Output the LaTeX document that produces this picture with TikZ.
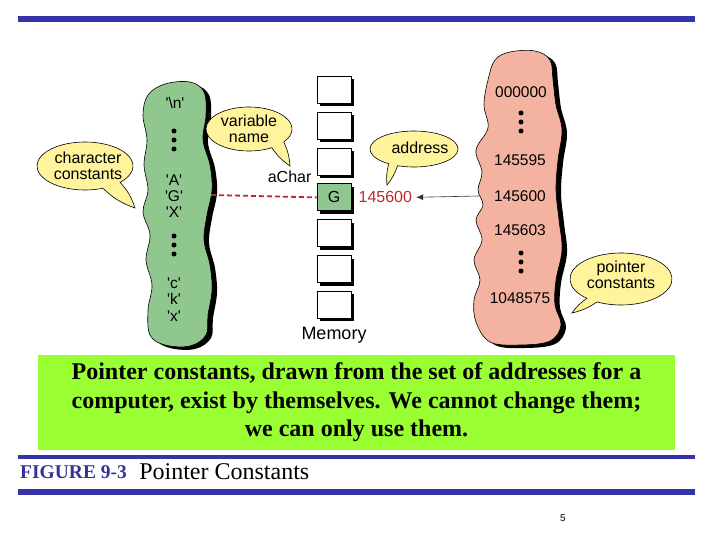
\documentclass[tikz,border=0pt]{standalone}
\usepackage{fontspec}
\setmainfont{Liberation Serif}
\setsansfont{Liberation Sans}
\usetikzlibrary{arrows.meta, positioning, calc, shadows}
\definecolor{barBlue}{HTML}{3434A8}
\definecolor{figBlue}{HTML}{333399}
\definecolor{charGreen}{HTML}{8FC78F}
\definecolor{addrPink}{HTML}{F4B3A0}
\definecolor{talkYellow}{HTML}{FFF39B}
\definecolor{noteLime}{HTML}{99FF33}
\definecolor{ptrRed}{HTML}{C0272D}

\begin{document}
\begin{tikzpicture}[
    x=1pt, y=-1pt,
    blob/.style={draw=black, line width=0.6pt,
                 drop shadow={opacity=1, fill=black, shadow xshift=5pt, shadow yshift=-3pt}},
    bubble/.style={draw=black, line width=0.6pt, fill=talkYellow},
    talk/.style={font=\sffamily\fontsize{16}{16.5}\selectfont, align=center, inner sep=0pt},
    val/.style={font=\sffamily\fontsize{15.5}{16}\selectfont, inner sep=0pt},
    cell/.style={draw, line width=0.8pt, fill=white, minimum width=34pt, minimum height=27pt,
                 inner sep=0pt, font=\sffamily\fontsize{16}{16}\selectfont,
                 drop shadow={opacity=1, fill=black, shadow xshift=3pt, shadow yshift=-3pt}},
    arrow/.style={-{Latex[length=7pt, width=6pt]}, line width=0.6pt, black!80},
]
\useasboundingbox (0,0) rectangle (720,540);

% ── frame bars ──
\fill[barBlue] (18,16) rectangle (695,22);
\fill[barBlue] (18,455) rectangle (695,458.5);
\fill[barBlue] (18,489) rectangle (695,495);

% ── character constants ──
\draw[blob, fill=charGreen] plot[smooth cycle, tension=0.6] coordinates {
    (165,84) (190,82) (204,92) (206,115) (203,140) (210,165) (212,190)
    (207,215) (204,240) (210,265) (212,290) (208,315) (206,335) (190,346)
    (165,345) (150,335) (148,310) (152,285) (146,260) (150,235) (143,212)
    (148,190) (144,165) (147,140) (143,115) (148,95)};
\node[val] (cn) at (175,103) {\textquotesingle\textbackslash n\textquotesingle};
\node[val] (cA) at (174,180) {\textquotesingle A\textquotesingle};
\node[val] (cG) at (174,196) {\textquotesingle G\textquotesingle};
\node[val] (cX) at (174,212) {\textquotesingle X\textquotesingle};
\node[val] (cc) at (174,283) {\textquotesingle c\textquotesingle};
\node[val] (ck) at (174,299) {\textquotesingle k\textquotesingle};
\node[val] (cx) at (174,316) {\textquotesingle x\textquotesingle};
\foreach \yy in {131,140,149,236,245,254}
    \fill (174,\yy) circle (2.5);
\coordinate (gedge) at (211,195);

% ── pointer constants ──
\draw[blob, fill=addrPink] plot[smooth cycle, tension=0.6] coordinates {
    (510,52) (535,51) (550,60) (553,80) (556,105) (562,130) (558,160)
    (556,190) (559,220) (562,250) (556,280) (555,305) (561,325) (550,341)
    (520,345) (490,342) (476,322) (474,300) (480,280) (474,260) (482,240)
    (476,220) (483,205) (478,190) (482,172) (476,150) (488,128) (484,105)
    (488,80) (495,60)};
\node[val] (a0) at (521,92) {000000};
\node[val] (a1) at (520,160) {145595};
\node[val] (a2) at (520,196) {145600};
\node[val] (a3) at (520,230) {145603};
\node[val] (a4) at (520,298) {1048575};
\foreach \yy in {113,122,131,253,262,271}
    \fill (521,\yy) circle (2.5);
\coordinate (pedge) at (479,196);

% ── memory ──
\node[cell] (cell1) at (334,90) {};
\node[cell, below=8pt of cell1] (cell2) {};
\node[cell, below=8pt of cell2] (cell3) {};
\node[cell, below=8pt of cell3, fill=charGreen] (cell4) {G};
\node[cell, below=8pt of cell4] (cell5) {};
\node[cell, below=8pt of cell5] (cell6) {};
\node[cell, below=8pt of cell6] (cell7) {};
\node[talk, below=8pt of cell7, font=\sffamily\fontsize{18}{18}\selectfont] (memory) {Memory};
\node[talk, above left=1pt and 5pt of cell4.north west, anchor=south east] (achar) {aChar};
\node[talk, right=7pt of cell4, text=ptrRed] (addr) {145600};

% ── speech bubbles ──
\draw[bubble] (85,166) ++(68:48 and 24) coordinate (cct) arc[start angle=68, end angle=403, x radius=48, y radius=24]
    to[bend left=12] (135,208) to[bend left=12] (cct) -- cycle;
\node[talk] (charconst) at (88,166) {character\\constants};
\draw[bubble] (249,129) ++(58:43 and 22) coordinate (vnt) arc[start angle=58, end angle=396, x radius=43, y radius=22]
    to[bend left=10] (290,166) to[bend left=10] (vnt) -- cycle;
\node[talk] (varname) at (249,129) {variable\\name};
\draw[bubble] (414,149) ++(125:44 and 18) coordinate (adt) arc[start angle=125, end angle=472, x radius=44, y radius=18]
    to[bend left=10] (387,185) to[bend left=10] (adt) -- cycle;
\node[talk] (address) at (420,148) {address};
\draw[bubble] (621,279) ++(132:51 and 26) coordinate (pct) arc[start angle=132, end angle=478, x radius=51, y radius=26]
    to[bend left=10] (572,313) to[bend left=10] (pct) -- cycle;
\node[talk] (ptrconst) at (621,275) {pointer\\constants};

% ── connectors ──
\draw[ptrRed, line width=1.8pt, dash pattern=on 5pt off 3pt] (gedge) -- (cell4.west);
\draw[arrow, shorten >=4pt] (pedge) -- (addr.east);

% ── note and caption ──
\node[fill=noteLime, minimum width=637pt, minimum height=95pt, inner sep=0pt,
      align=center, font=\bfseries\fontsize{24}{28.5}\selectfont] (note) at (356.5,402.5)
    {Pointer constants, drawn from the set of addresses for a\\
     computer, exist by themselves. We cannot change them;\\
     we can only use them.};
\node[anchor=west, inner sep=0pt, text=figBlue, font=\bfseries\fontsize{19.5}{20}\selectfont]
    (fig) at (20,472) {FIGURE 9-3};
\node[right=12pt of fig, inner sep=0pt, font=\fontsize{24}{26}\selectfont] (title) {Pointer Constants};
\node[inner sep=0pt, font=\sffamily\fontsize{10}{10}\selectfont] (page) at (563,518) {5};
\end{tikzpicture}
\end{document}
